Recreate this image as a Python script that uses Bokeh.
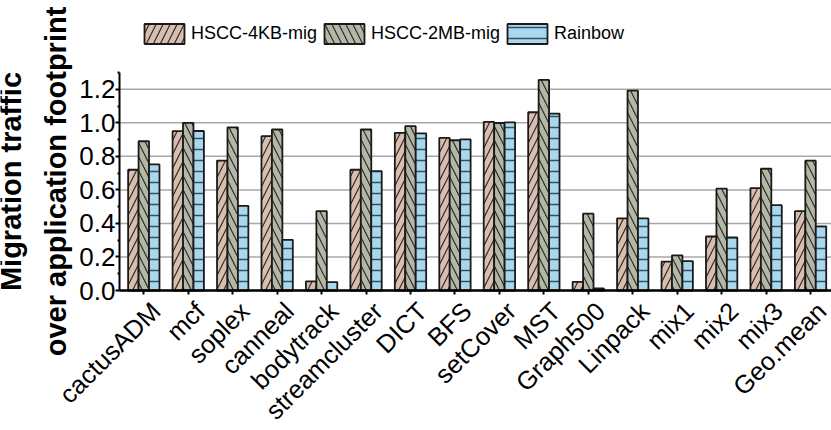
import math
import numpy as np
from bokeh.plotting import figure
from bokeh.models import (Range1d, FixedTicker, Legend, LegendItem, LinearAxis, Label,
                          ColumnDataSource, PrintfTickFormatter)
from bokeh.embed import file_html
from bokeh.resources import INLINE

# ---------------- data ----------------
benchmarks = ["cactusADM", "mcf", "soplex", "canneal", "bodytrack", "streamcluster",
              "DICT", "BFS", "setCover", "MST", "Graph500", "Linpack",
              "mix1", "mix2", "mix3", "Geo.mean"]
hscc_4kb = [0.72, 0.95, 0.775, 0.92, 0.055, 0.72, 0.94, 0.91, 1.005, 1.063,
            0.052, 0.43, 0.172, 0.322, 0.61, 0.473]
hscc_2mb = [0.89, 1.0, 0.973, 0.96, 0.473, 0.96, 0.98, 0.896, 0.999, 1.256,
            0.458, 1.192, 0.21, 0.607, 0.726, 0.774]
rainbow = [0.752, 0.951, 0.505, 0.302, 0.05, 0.712, 0.937, 0.901, 1.003, 1.055,
           0.012, 0.43, 0.175, 0.316, 0.509, 0.382]
series_names = ["HSCC-4KB-mig", "HSCC-2MB-mig", "Rainbow"]
y_ticks = [0.0, 0.2, 0.4, 0.6, 0.8, 1.0, 1.2]
y_minor_ticks = [0.1, 0.3, 0.5, 0.7, 0.9, 1.1, 1.3]
y_axis_max = 1.3
y_title_lines = ["Migration traffic", "over application footprint"]

FONT = "Liberation Sans"
W, H = 831, 430
# layout (pixels from the top-left of the canvas)
AX_LEFT, AX_BOTTOM, AX_TOP = 119.0, 290.0, 72.0
CAT_PX = 44.45          # width of one category
FIRST_CAT_PX = 143.3    # centre of the first category

# The frame fills the whole canvas; the axes are pinned with fixed_location,
# so every text lives inside the frame and nothing is clipped.
sy = (AX_BOTTOM - AX_TOP) / y_axis_max
Y0, Y1 = -(H - AX_BOTTOM) / sy, AX_BOTTOM / sy
X0 = -FIRST_CAT_PX / CAT_PX
X1 = X0 + W / CAT_PX
XA = X0 + AX_LEFT / CAT_PX     # data x of the y axis

p = figure(width=W, height=H, output_backend="svg", toolbar_location=None,
           x_range=Range1d(X0, X1), y_range=Range1d(Y0, Y1),
           min_border_left=0, min_border_right=0, min_border_top=0, min_border_bottom=0)
p.outline_line_color = None
p.background_fill_color = "white"
p.xgrid.visible = False
p.ygrid.visible = False

# grid lines, starting at the y axis
p.segment(x0=XA, x1=X1, y0=y_ticks, y1=y_ticks, line_color="#a8a8a8", line_width=1.5)

xs = np.arange(len(benchmarks))
bar_w = 0.235
styles = [
    dict(fill_color="#d9bdaf", hatch_pattern="/", hatch_color="#2a2a2a",
         hatch_weight=1.2, hatch_scale=14),
    dict(fill_color="#b4b7a5", hatch_pattern="\\", hatch_color="#2a2a2a",
         hatch_weight=1.2, hatch_scale=14),
    dict(fill_color="#a9d8ee", hatch_pattern="-", hatch_color="#34505e",
         hatch_weight=1.5, hatch_scale=11),
]
series = [hscc_4kb, hscc_2mb, rainbow]
offsets = [-bar_w, 0.0, bar_w]
renderers = []
for vals, off, st in zip(series, offsets, styles):
    src = ColumnDataSource(dict(x=xs + off, top=vals))
    r = p.vbar(x="x", top="top", bottom=0, width=bar_w, source=src,
               line_color="#1a1a1a", line_width=1.8, **st)
    renderers.append(r)

# ---------------- x axis: ticks ----------------
xa = p.xaxis[0]
xa.fixed_location = 0
xa.bounds = (XA, X1)
xa.ticker = FixedTicker(ticks=list(xs))
xa.major_label_overrides = {int(i): "" for i in xs}
xa.major_label_text_font_size = "0px"
xa.major_label_standoff = 0
xa.axis_line_width = 2.5
xa.axis_line_color = "black"
xa.major_tick_out = 4
xa.major_tick_in = 0
xa.major_tick_line_width = 2
xa.minor_tick_line_color = None
xa.minor_tick_out = 0

# ---------------- x axis: rotated labels (slightly shifted) ----------------
DX = 0.27
p.extra_x_ranges = {"labels": Range1d(X0 - DX, X1 - DX)}
xb = LinearAxis(x_range_name="labels", ticker=FixedTicker(ticks=list(xs)), fixed_location=0)
xb.major_label_overrides = {int(i): b for i, b in zip(xs, benchmarks)}
xb.major_label_orientation = math.pi / 4
xb.major_label_text_font = FONT
xb.major_label_text_font_size = "25.5px"
xb.major_label_text_color = "black"
xb.axis_line_color = None
xb.major_tick_line_color = None
xb.minor_tick_line_color = None
xb.major_tick_out = 0
xb.minor_tick_out = 0
xb.major_label_standoff = 16
p.add_layout(xb, "below")

# ---------------- y axis ----------------
ya = p.yaxis[0]
ya.fixed_location = XA
ya.bounds = (0, y_axis_max)
ya.ticker = FixedTicker(ticks=y_ticks, minor_ticks=y_minor_ticks)
ya.formatter = PrintfTickFormatter(format="%.1f")
ya.major_label_text_font = FONT
ya.major_label_text_font_size = "26px"
ya.major_label_text_color = "black"
ya.axis_line_width = 2
ya.axis_line_color = "black"
ya.major_tick_out = 4
ya.major_tick_in = 0
ya.major_tick_line_width = 2
ya.minor_tick_out = 2
ya.minor_tick_in = 0
ya.minor_tick_line_width = 2
ya.major_label_standoff = 0

# ---------------- y-axis title (two lines) ----------------
for txt, bx in zip(y_title_lines, [10.7, 55.7]):
    p.add_layout(Label(x=bx, y=H - 181, x_units="screen", y_units="screen",
                       text=txt, angle=math.pi / 2,
                       text_align="center", text_baseline="alphabetic",
                       text_font=FONT, text_font_style="bold",
                       text_font_size="29px", text_color="black"))

# ---------------- legend ----------------
legend = Legend(items=[LegendItem(label=n, renderers=[r]) for n, r in zip(series_names, renderers)],
                location=(139, H - 45.5), orientation="horizontal",
                glyph_width=50, glyph_height=25, label_height=25,
                label_text_font=FONT, label_text_font_size="18px",
                label_text_color="black", label_text_baseline="middle",
                spacing=2, label_standoff=2, padding=0, margin=0,
                border_line_color=None, background_fill_alpha=0)
p.add_layout(legend, "center")

open("out.html", "w").write(file_html(p, INLINE))
